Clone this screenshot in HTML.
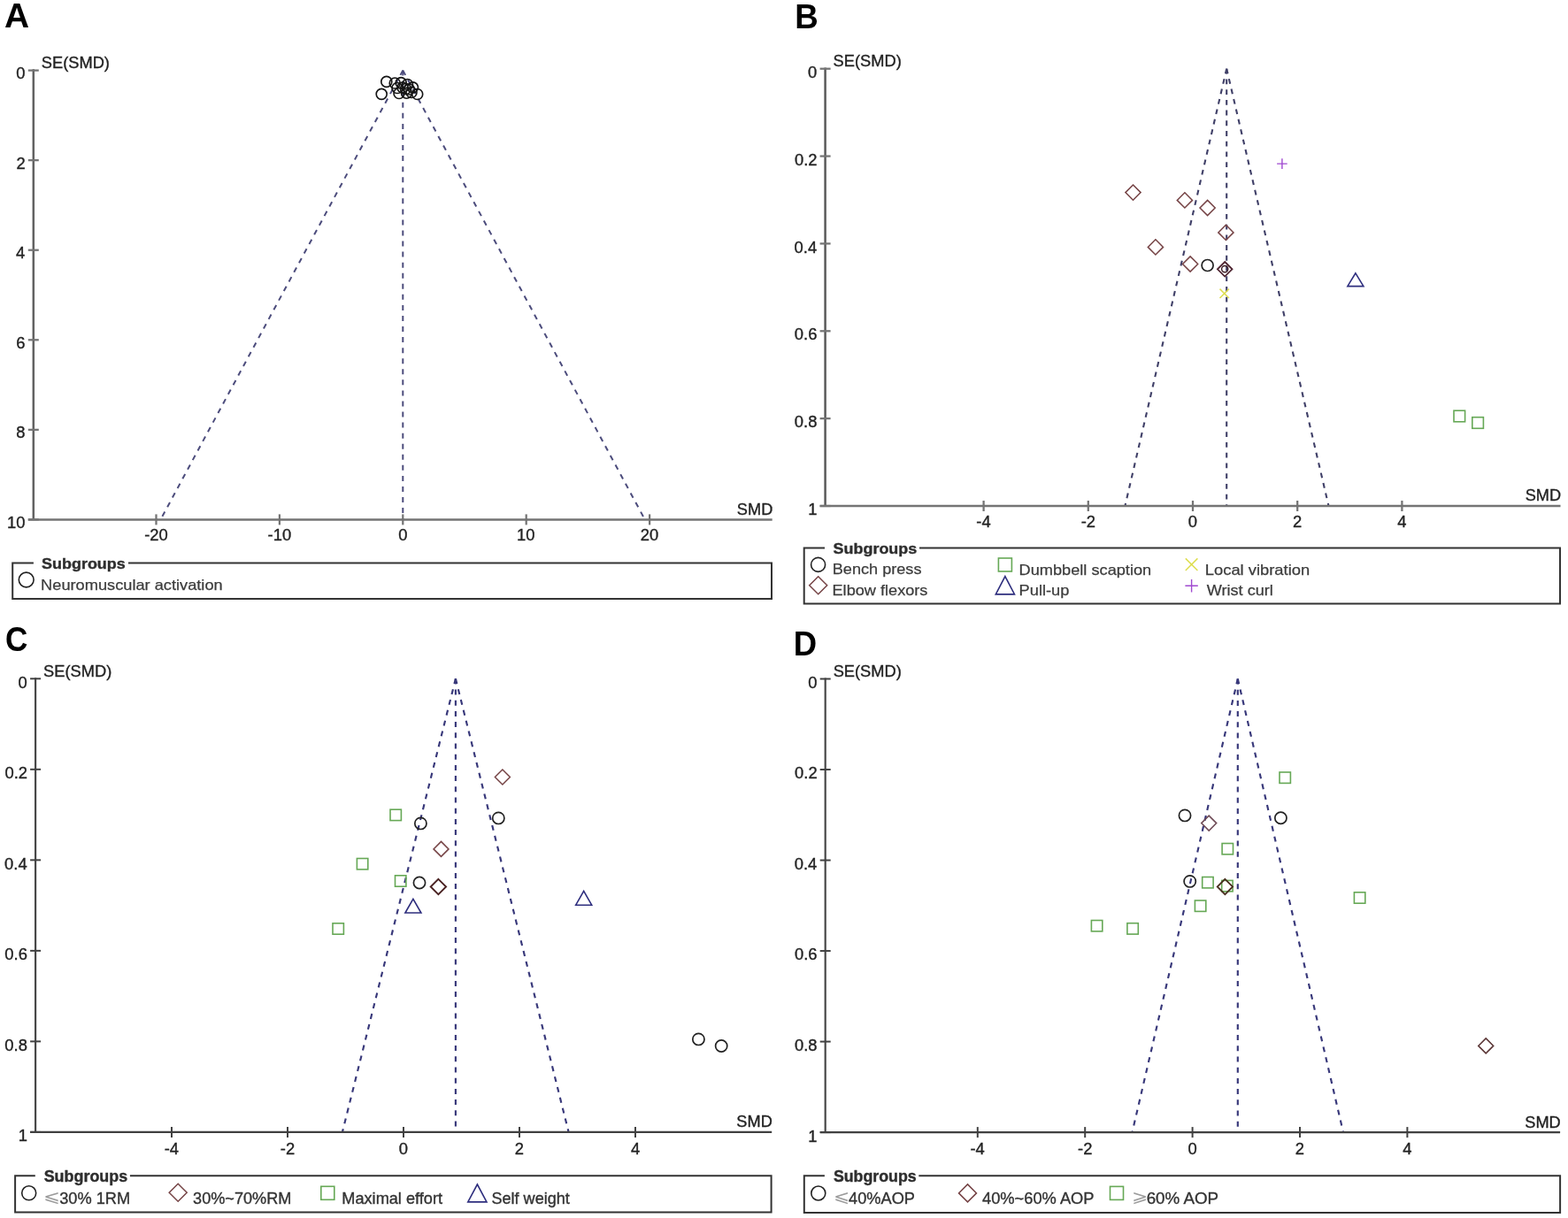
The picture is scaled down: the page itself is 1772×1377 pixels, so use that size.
<!DOCTYPE html>
<html><head><meta charset="utf-8"><title>Funnel plots</title>
<style>
html,body{margin:0;padding:0;background:#fff;}
body{width:1772px;height:1377px;overflow:hidden;}
svg{display:block;}
svg text{font-family:"Liberation Sans", Arial, sans-serif;}
</style></head>
<body>
<svg width="1772" height="1377" viewBox="0 0 1772 1377">
<rect width="1772" height="1377" fill="#fff"/>
<text x="4.93" y="30.70" font-size="38.50" font-weight="bold" textLength="28.09" lengthAdjust="spacingAndGlyphs" fill="#000">A</text>
<line x1="455.30" y1="79.60" x2="181.50" y2="587.40" stroke="#4c4c7c" stroke-width="2.00" stroke-dasharray="6 6.06"/>
<line x1="455.30" y1="79.60" x2="728.80" y2="587.40" stroke="#4c4c7c" stroke-width="2.00" stroke-dasharray="6 6.06"/>
<line x1="455.30" y1="79.60" x2="455.30" y2="587.40" stroke="#4c4c7c" stroke-width="2.00" stroke-dasharray="6 6.06"/>
<line x1="37.80" y1="78.35" x2="37.80" y2="587.40" stroke="#626262" stroke-width="2.50"/>
<line x1="31.80" y1="79.60" x2="43.80" y2="79.60" stroke="#747474" stroke-width="2.25"/>
<text x="18.29" y="89.10" font-size="17.60" textLength="10.23" lengthAdjust="spacingAndGlyphs" fill="#222" stroke="#222" stroke-width="0.35">0</text>
<line x1="31.80" y1="181.16" x2="43.80" y2="181.16" stroke="#747474" stroke-width="2.25"/>
<text x="18.50" y="190.66" font-size="17.60" textLength="10.23" lengthAdjust="spacingAndGlyphs" fill="#222" stroke="#222" stroke-width="0.35">2</text>
<line x1="31.80" y1="282.72" x2="43.80" y2="282.72" stroke="#747474" stroke-width="2.25"/>
<text x="18.11" y="292.22" font-size="17.60" textLength="10.23" lengthAdjust="spacingAndGlyphs" fill="#222" stroke="#222" stroke-width="0.35">4</text>
<line x1="31.80" y1="384.28" x2="43.80" y2="384.28" stroke="#747474" stroke-width="2.25"/>
<text x="18.38" y="393.78" font-size="17.60" textLength="10.23" lengthAdjust="spacingAndGlyphs" fill="#222" stroke="#222" stroke-width="0.35">6</text>
<line x1="31.80" y1="485.84" x2="43.80" y2="485.84" stroke="#747474" stroke-width="2.25"/>
<text x="18.37" y="495.34" font-size="17.60" textLength="10.23" lengthAdjust="spacingAndGlyphs" fill="#222" stroke="#222" stroke-width="0.35">8</text>
<line x1="31.80" y1="587.40" x2="43.80" y2="587.40" stroke="#747474" stroke-width="2.25"/>
<text x="8.06" y="596.90" font-size="17.60" textLength="20.46" lengthAdjust="spacingAndGlyphs" fill="#222" stroke="#222" stroke-width="0.35">10</text>
<line x1="31.80" y1="587.40" x2="872.70" y2="587.40" stroke="#747474" stroke-width="2.50"/>
<line x1="176.50" y1="581.40" x2="176.50" y2="593.40" stroke="#747474" stroke-width="2.25"/>
<text x="163.16" y="611.40" font-size="17.60" textLength="26.58" lengthAdjust="spacingAndGlyphs" fill="#222" stroke="#222" stroke-width="0.35">-20</text>
<line x1="315.90" y1="581.40" x2="315.90" y2="593.40" stroke="#747474" stroke-width="2.25"/>
<text x="302.56" y="611.40" font-size="17.60" textLength="26.58" lengthAdjust="spacingAndGlyphs" fill="#222" stroke="#222" stroke-width="0.35">-10</text>
<line x1="455.30" y1="581.40" x2="455.30" y2="593.40" stroke="#747474" stroke-width="2.25"/>
<text x="450.19" y="611.40" font-size="17.60" textLength="10.23" lengthAdjust="spacingAndGlyphs" fill="#222" stroke="#222" stroke-width="0.35">0</text>
<line x1="594.70" y1="581.40" x2="594.70" y2="593.40" stroke="#747474" stroke-width="2.25"/>
<text x="584.13" y="611.40" font-size="17.60" textLength="20.46" lengthAdjust="spacingAndGlyphs" fill="#222" stroke="#222" stroke-width="0.35">10</text>
<line x1="734.10" y1="581.40" x2="734.10" y2="593.40" stroke="#747474" stroke-width="2.25"/>
<text x="723.77" y="611.40" font-size="17.60" textLength="20.46" lengthAdjust="spacingAndGlyphs" fill="#222" stroke="#222" stroke-width="0.35">20</text>
<text x="46.77" y="77.30" font-size="17.80" textLength="77.16" lengthAdjust="spacingAndGlyphs" fill="#222" stroke="#222" stroke-width="0.35">SE(SMD)</text>
<text x="832.87" y="581.80" font-size="17.80" textLength="40.40" lengthAdjust="spacingAndGlyphs" fill="#222" stroke="#222" stroke-width="0.35">SMD</text>
<path d="M145.00 636.50H872.00V677.00H14.20V636.50H37.90" fill="none" stroke="#333" stroke-width="2"/>
<text x="47.08" y="643.20" font-size="17.00" font-weight="bold" textLength="94.65" lengthAdjust="spacingAndGlyphs" fill="#2e2e2e" stroke="#2e2e2e" stroke-width="0.40">Subgroups</text>
<text x="898.34" y="32.30" font-size="38.50" font-weight="bold" textLength="26.52" lengthAdjust="spacingAndGlyphs" fill="#000">B</text>
<line x1="1386.20" y1="77.70" x2="1271.40" y2="572.00" stroke="#404068" stroke-width="2.10" stroke-dasharray="5.8 5.93"/>
<line x1="1386.20" y1="77.70" x2="1501.50" y2="572.00" stroke="#404068" stroke-width="2.10" stroke-dasharray="5.8 5.93"/>
<line x1="1386.20" y1="77.70" x2="1386.20" y2="572.00" stroke="#404068" stroke-width="2.10" stroke-dasharray="5.8 5.93"/>
<line x1="932.60" y1="76.45" x2="932.60" y2="572.00" stroke="#5a5a5a" stroke-width="2.50"/>
<line x1="926.60" y1="77.70" x2="938.60" y2="77.70" stroke="#747474" stroke-width="2.25"/>
<text x="913.09" y="87.90" font-size="17.60" textLength="10.23" lengthAdjust="spacingAndGlyphs" fill="#222" stroke="#222" stroke-width="0.35">0</text>
<line x1="926.60" y1="176.56" x2="938.60" y2="176.56" stroke="#747474" stroke-width="2.25"/>
<text x="897.96" y="186.76" font-size="17.60" textLength="25.57" lengthAdjust="spacingAndGlyphs" fill="#222" stroke="#222" stroke-width="0.35">0.2</text>
<line x1="926.60" y1="275.42" x2="938.60" y2="275.42" stroke="#747474" stroke-width="2.25"/>
<text x="897.57" y="285.62" font-size="17.60" textLength="25.57" lengthAdjust="spacingAndGlyphs" fill="#222" stroke="#222" stroke-width="0.35">0.4</text>
<line x1="926.60" y1="374.28" x2="938.60" y2="374.28" stroke="#747474" stroke-width="2.25"/>
<text x="897.84" y="384.48" font-size="17.60" textLength="25.57" lengthAdjust="spacingAndGlyphs" fill="#222" stroke="#222" stroke-width="0.35">0.6</text>
<line x1="926.60" y1="473.14" x2="938.60" y2="473.14" stroke="#747474" stroke-width="2.25"/>
<text x="897.83" y="483.34" font-size="17.60" textLength="25.57" lengthAdjust="spacingAndGlyphs" fill="#222" stroke="#222" stroke-width="0.35">0.8</text>
<line x1="926.60" y1="572.00" x2="938.60" y2="572.00" stroke="#747474" stroke-width="2.25"/>
<text x="913.27" y="582.20" font-size="17.60" textLength="10.23" lengthAdjust="spacingAndGlyphs" fill="#222" stroke="#222" stroke-width="0.35">1</text>
<line x1="926.60" y1="572.00" x2="1763.50" y2="572.00" stroke="#747474" stroke-width="2.50"/>
<line x1="1111.60" y1="566.00" x2="1111.60" y2="578.00" stroke="#747474" stroke-width="2.25"/>
<text x="1103.28" y="595.50" font-size="17.60" textLength="16.35" lengthAdjust="spacingAndGlyphs" fill="#222" stroke="#222" stroke-width="0.35">-4</text>
<line x1="1229.80" y1="566.00" x2="1229.80" y2="578.00" stroke="#747474" stroke-width="2.25"/>
<text x="1221.68" y="595.50" font-size="17.60" textLength="16.35" lengthAdjust="spacingAndGlyphs" fill="#222" stroke="#222" stroke-width="0.35">-2</text>
<line x1="1348.00" y1="566.00" x2="1348.00" y2="578.00" stroke="#747474" stroke-width="2.25"/>
<text x="1342.89" y="595.50" font-size="17.60" textLength="10.23" lengthAdjust="spacingAndGlyphs" fill="#222" stroke="#222" stroke-width="0.35">0</text>
<line x1="1466.20" y1="566.00" x2="1466.20" y2="578.00" stroke="#747474" stroke-width="2.25"/>
<text x="1461.09" y="595.50" font-size="17.60" textLength="10.23" lengthAdjust="spacingAndGlyphs" fill="#222" stroke="#222" stroke-width="0.35">2</text>
<line x1="1584.40" y1="566.00" x2="1584.40" y2="578.00" stroke="#747474" stroke-width="2.25"/>
<text x="1579.34" y="595.50" font-size="17.60" textLength="10.23" lengthAdjust="spacingAndGlyphs" fill="#222" stroke="#222" stroke-width="0.35">4</text>
<text x="941.57" y="75.40" font-size="17.80" textLength="77.16" lengthAdjust="spacingAndGlyphs" fill="#222" stroke="#222" stroke-width="0.35">SE(SMD)</text>
<text x="1723.67" y="566.40" font-size="17.80" textLength="40.40" lengthAdjust="spacingAndGlyphs" fill="#222" stroke="#222" stroke-width="0.35">SMD</text>
<path d="M1039.00 619.60H1763.00V682.60H908.70V619.60H932.00" fill="none" stroke="#333" stroke-width="2"/>
<text x="941.58" y="626.00" font-size="17.20" font-weight="bold" textLength="94.65" lengthAdjust="spacingAndGlyphs" fill="#2e2e2e" stroke="#2e2e2e" stroke-width="0.40">Subgroups</text>
<text x="6.06" y="735.80" font-size="38.50" font-weight="bold" textLength="25.40" lengthAdjust="spacingAndGlyphs" fill="#000">C</text>
<line x1="514.90" y1="767.30" x2="386.90" y2="1279.90" stroke="#38387a" stroke-width="2.15" stroke-dasharray="6 6.2"/>
<line x1="514.90" y1="767.30" x2="642.60" y2="1279.90" stroke="#38387a" stroke-width="2.15" stroke-dasharray="6 6.2"/>
<line x1="514.90" y1="767.30" x2="514.90" y2="1279.90" stroke="#38387a" stroke-width="2.15" stroke-dasharray="6 6.2"/>
<line x1="40.10" y1="766.20" x2="40.10" y2="1279.90" stroke="#484848" stroke-width="2.20"/>
<line x1="34.10" y1="767.30" x2="46.10" y2="767.30" stroke="#404040" stroke-width="1.98"/>
<text x="20.59" y="777.70" font-size="17.60" textLength="10.23" lengthAdjust="spacingAndGlyphs" fill="#222" stroke="#222" stroke-width="0.35">0</text>
<line x1="34.10" y1="869.82" x2="46.10" y2="869.82" stroke="#404040" stroke-width="1.98"/>
<text x="5.46" y="880.22" font-size="17.60" textLength="25.57" lengthAdjust="spacingAndGlyphs" fill="#222" stroke="#222" stroke-width="0.35">0.2</text>
<line x1="34.10" y1="972.34" x2="46.10" y2="972.34" stroke="#404040" stroke-width="1.98"/>
<text x="5.07" y="982.74" font-size="17.60" textLength="25.57" lengthAdjust="spacingAndGlyphs" fill="#222" stroke="#222" stroke-width="0.35">0.4</text>
<line x1="34.10" y1="1074.86" x2="46.10" y2="1074.86" stroke="#404040" stroke-width="1.98"/>
<text x="5.34" y="1085.26" font-size="17.60" textLength="25.57" lengthAdjust="spacingAndGlyphs" fill="#222" stroke="#222" stroke-width="0.35">0.6</text>
<line x1="34.10" y1="1177.38" x2="46.10" y2="1177.38" stroke="#404040" stroke-width="1.98"/>
<text x="5.33" y="1187.78" font-size="17.60" textLength="25.57" lengthAdjust="spacingAndGlyphs" fill="#222" stroke="#222" stroke-width="0.35">0.8</text>
<line x1="34.10" y1="1279.90" x2="46.10" y2="1279.90" stroke="#404040" stroke-width="1.98"/>
<text x="20.77" y="1290.30" font-size="17.60" textLength="10.23" lengthAdjust="spacingAndGlyphs" fill="#222" stroke="#222" stroke-width="0.35">1</text>
<line x1="34.10" y1="1279.90" x2="872.20" y2="1279.90" stroke="#404040" stroke-width="2.20"/>
<line x1="194.00" y1="1273.90" x2="194.00" y2="1285.90" stroke="#404040" stroke-width="1.98"/>
<text x="185.68" y="1304.90" font-size="17.60" textLength="16.35" lengthAdjust="spacingAndGlyphs" fill="#222" stroke="#222" stroke-width="0.35">-4</text>
<line x1="325.00" y1="1273.90" x2="325.00" y2="1285.90" stroke="#404040" stroke-width="1.98"/>
<text x="316.88" y="1304.90" font-size="17.60" textLength="16.35" lengthAdjust="spacingAndGlyphs" fill="#222" stroke="#222" stroke-width="0.35">-2</text>
<line x1="456.00" y1="1273.90" x2="456.00" y2="1285.90" stroke="#404040" stroke-width="1.98"/>
<text x="450.89" y="1304.90" font-size="17.60" textLength="10.23" lengthAdjust="spacingAndGlyphs" fill="#222" stroke="#222" stroke-width="0.35">0</text>
<line x1="587.00" y1="1273.90" x2="587.00" y2="1285.90" stroke="#404040" stroke-width="1.98"/>
<text x="581.89" y="1304.90" font-size="17.60" textLength="10.23" lengthAdjust="spacingAndGlyphs" fill="#222" stroke="#222" stroke-width="0.35">2</text>
<line x1="718.00" y1="1273.90" x2="718.00" y2="1285.90" stroke="#404040" stroke-width="1.98"/>
<text x="712.94" y="1304.90" font-size="17.60" textLength="10.23" lengthAdjust="spacingAndGlyphs" fill="#222" stroke="#222" stroke-width="0.35">4</text>
<text x="49.07" y="765.00" font-size="17.80" textLength="77.16" lengthAdjust="spacingAndGlyphs" fill="#222" stroke="#222" stroke-width="0.35">SE(SMD)</text>
<text x="832.37" y="1274.30" font-size="17.80" textLength="40.40" lengthAdjust="spacingAndGlyphs" fill="#222" stroke="#222" stroke-width="0.35">SMD</text>
<path d="M146.90 1329.20H871.60V1370.60H17.10V1329.20H39.80" fill="none" stroke="#333" stroke-width="2"/>
<text x="49.68" y="1336.10" font-size="17.80" font-weight="bold" textLength="94.55" lengthAdjust="spacingAndGlyphs" fill="#2e2e2e" stroke="#2e2e2e" stroke-width="0.40">Subgroups</text>
<text x="896.86" y="740.60" font-size="38.50" font-weight="bold" textLength="26.38" lengthAdjust="spacingAndGlyphs" fill="#000">D</text>
<line x1="1398.80" y1="767.50" x2="1279.50" y2="1280.10" stroke="#38387a" stroke-width="2.15" stroke-dasharray="6 6.2"/>
<line x1="1398.80" y1="767.50" x2="1518.00" y2="1280.10" stroke="#38387a" stroke-width="2.15" stroke-dasharray="6 6.2"/>
<line x1="1398.80" y1="767.50" x2="1398.80" y2="1280.10" stroke="#38387a" stroke-width="2.15" stroke-dasharray="6 6.2"/>
<line x1="932.70" y1="766.40" x2="932.70" y2="1280.10" stroke="#484848" stroke-width="2.20"/>
<line x1="926.70" y1="767.50" x2="938.70" y2="767.50" stroke="#404040" stroke-width="1.98"/>
<text x="913.19" y="777.90" font-size="17.60" textLength="10.23" lengthAdjust="spacingAndGlyphs" fill="#222" stroke="#222" stroke-width="0.35">0</text>
<line x1="926.70" y1="870.02" x2="938.70" y2="870.02" stroke="#404040" stroke-width="1.98"/>
<text x="898.06" y="880.42" font-size="17.60" textLength="25.57" lengthAdjust="spacingAndGlyphs" fill="#222" stroke="#222" stroke-width="0.35">0.2</text>
<line x1="926.70" y1="972.54" x2="938.70" y2="972.54" stroke="#404040" stroke-width="1.98"/>
<text x="897.67" y="982.94" font-size="17.60" textLength="25.57" lengthAdjust="spacingAndGlyphs" fill="#222" stroke="#222" stroke-width="0.35">0.4</text>
<line x1="926.70" y1="1075.06" x2="938.70" y2="1075.06" stroke="#404040" stroke-width="1.98"/>
<text x="897.94" y="1085.46" font-size="17.60" textLength="25.57" lengthAdjust="spacingAndGlyphs" fill="#222" stroke="#222" stroke-width="0.35">0.6</text>
<line x1="926.70" y1="1177.58" x2="938.70" y2="1177.58" stroke="#404040" stroke-width="1.98"/>
<text x="897.93" y="1187.98" font-size="17.60" textLength="25.57" lengthAdjust="spacingAndGlyphs" fill="#222" stroke="#222" stroke-width="0.35">0.8</text>
<line x1="926.70" y1="1280.10" x2="938.70" y2="1280.10" stroke="#404040" stroke-width="1.98"/>
<text x="913.37" y="1290.50" font-size="17.60" textLength="10.23" lengthAdjust="spacingAndGlyphs" fill="#222" stroke="#222" stroke-width="0.35">1</text>
<line x1="926.70" y1="1280.10" x2="1763.10" y2="1280.10" stroke="#404040" stroke-width="2.20"/>
<line x1="1104.80" y1="1274.10" x2="1104.80" y2="1286.10" stroke="#404040" stroke-width="1.98"/>
<text x="1096.48" y="1304.70" font-size="17.60" textLength="16.35" lengthAdjust="spacingAndGlyphs" fill="#222" stroke="#222" stroke-width="0.35">-4</text>
<line x1="1226.20" y1="1274.10" x2="1226.20" y2="1286.10" stroke="#404040" stroke-width="1.98"/>
<text x="1218.08" y="1304.70" font-size="17.60" textLength="16.35" lengthAdjust="spacingAndGlyphs" fill="#222" stroke="#222" stroke-width="0.35">-2</text>
<line x1="1347.60" y1="1274.10" x2="1347.60" y2="1286.10" stroke="#404040" stroke-width="1.98"/>
<text x="1342.49" y="1304.70" font-size="17.60" textLength="10.23" lengthAdjust="spacingAndGlyphs" fill="#222" stroke="#222" stroke-width="0.35">0</text>
<line x1="1469.00" y1="1274.10" x2="1469.00" y2="1286.10" stroke="#404040" stroke-width="1.98"/>
<text x="1463.89" y="1304.70" font-size="17.60" textLength="10.23" lengthAdjust="spacingAndGlyphs" fill="#222" stroke="#222" stroke-width="0.35">2</text>
<line x1="1590.40" y1="1274.10" x2="1590.40" y2="1286.10" stroke="#404040" stroke-width="1.98"/>
<text x="1585.34" y="1304.70" font-size="17.60" textLength="10.23" lengthAdjust="spacingAndGlyphs" fill="#222" stroke="#222" stroke-width="0.35">4</text>
<text x="941.67" y="765.20" font-size="17.80" textLength="77.16" lengthAdjust="spacingAndGlyphs" fill="#222" stroke="#222" stroke-width="0.35">SE(SMD)</text>
<text x="1723.27" y="1274.50" font-size="17.80" textLength="40.40" lengthAdjust="spacingAndGlyphs" fill="#222" stroke="#222" stroke-width="0.35">SMD</text>
<path d="M1038.30 1329.30H1763.10V1371.00H908.80V1329.30H931.90" fill="none" stroke="#333" stroke-width="2"/>
<text x="941.89" y="1336.10" font-size="17.80" font-weight="bold" fill="#2e2e2e" stroke="#2e2e2e" stroke-width="0.40">Subgroups</text>
<circle cx="436.80" cy="92.40" r="6.00" fill="none" stroke="#151515" stroke-width="1.65"/>
<circle cx="431.20" cy="106.30" r="6.00" fill="none" stroke="#151515" stroke-width="1.65"/>
<circle cx="446.20" cy="94.00" r="6.00" fill="none" stroke="#151515" stroke-width="1.65"/>
<circle cx="453.20" cy="93.60" r="6.00" fill="none" stroke="#151515" stroke-width="1.65"/>
<circle cx="460.50" cy="95.50" r="6.00" fill="none" stroke="#151515" stroke-width="1.65"/>
<circle cx="466.50" cy="98.80" r="6.00" fill="none" stroke="#151515" stroke-width="1.65"/>
<circle cx="458.50" cy="100.50" r="6.00" fill="none" stroke="#151515" stroke-width="1.65"/>
<circle cx="451.00" cy="105.50" r="6.00" fill="none" stroke="#151515" stroke-width="1.65"/>
<circle cx="459.50" cy="105.20" r="6.00" fill="none" stroke="#151515" stroke-width="1.65"/>
<circle cx="465.00" cy="104.50" r="6.00" fill="none" stroke="#151515" stroke-width="1.65"/>
<circle cx="471.70" cy="106.50" r="6.00" fill="none" stroke="#151515" stroke-width="1.65"/>
<circle cx="455.00" cy="99.00" r="6.00" fill="none" stroke="#151515" stroke-width="1.65"/>
<circle cx="462.50" cy="101.00" r="6.00" fill="none" stroke="#151515" stroke-width="1.65"/>
<circle cx="449.00" cy="99.50" r="6.00" fill="none" stroke="#151515" stroke-width="1.65"/>
<circle cx="29.70" cy="655.50" r="8.40" fill="none" stroke="#222" stroke-width="1.60"/>
<text x="46.11" y="667.30" font-size="17.00" textLength="205.58" lengthAdjust="spacingAndGlyphs" fill="#3c3c3c" stroke="#3c3c3c" stroke-width="0.25">Neuromuscular activation</text>
<path d="M1443.10 185.10L1454.70 185.10M1448.90 179.30L1448.90 190.90" stroke="#a04ad0" stroke-width="1.40"/>
<path d="M1280.50 209.00L1289.10 217.60L1280.50 226.20L1271.90 217.60Z" fill="none" stroke="#764446" stroke-width="1.50"/>
<path d="M1338.90 217.80L1347.50 226.40L1338.90 235.00L1330.30 226.40Z" fill="none" stroke="#764446" stroke-width="1.50"/>
<path d="M1364.60 226.40L1373.20 235.00L1364.60 243.60L1356.00 235.00Z" fill="none" stroke="#764446" stroke-width="1.50"/>
<path d="M1385.40 254.30L1394.00 262.90L1385.40 271.50L1376.80 262.90Z" fill="none" stroke="#764446" stroke-width="1.50"/>
<path d="M1305.90 270.80L1314.50 279.40L1305.90 288.00L1297.30 279.40Z" fill="none" stroke="#764446" stroke-width="1.50"/>
<path d="M1345.10 289.90L1353.70 298.50L1345.10 307.10L1336.50 298.50Z" fill="none" stroke="#764446" stroke-width="1.50"/>
<circle cx="1364.60" cy="300.00" r="6.50" fill="none" stroke="#222" stroke-width="1.70"/>
<path d="M1384.20 296.00L1392.50 304.30L1384.20 312.60L1375.90 304.30Z" fill="none" stroke="#4e2430" stroke-width="1.80"/>
<circle cx="1384.20" cy="304.10" r="3.60" fill="none" stroke="#3a1a22" stroke-width="1.40"/>
<path d="M1378.50 326.60L1388.90 337.00M1378.50 337.00L1388.90 326.60" stroke="#dede50" stroke-width="1.50"/>
<path d="M1531.90 308.80L1540.90 323.60L1522.90 323.60Z" fill="none" stroke="#2e2e7e" stroke-width="1.60" stroke-linejoin="miter"/>
<rect x="1643.00" y="464.20" width="12.60" height="12.60" fill="none" stroke="#66a856" stroke-width="1.60"/>
<rect x="1663.80" y="471.70" width="12.60" height="12.60" fill="none" stroke="#66a856" stroke-width="1.60"/>
<circle cx="924.60" cy="638.40" r="8.00" fill="none" stroke="#222" stroke-width="1.60"/>
<path d="M924.70 651.70L934.70 661.70L924.70 671.70L914.70 661.70Z" fill="none" stroke="#764446" stroke-width="1.50"/>
<rect x="1128.40" y="631.00" width="15.00" height="15.00" fill="none" stroke="#66a856" stroke-width="1.60"/>
<path d="M1135.90 651.60L1146.50 671.90L1125.30 671.90Z" fill="none" stroke="#2e2e7e" stroke-width="1.60" stroke-linejoin="miter"/>
<path d="M1339.80 631.40L1353.40 645.00M1339.80 645.00L1353.40 631.40" stroke="#dede50" stroke-width="1.50"/>
<path d="M1339.40 662.20L1353.80 662.20M1346.60 655.00L1346.60 669.40" stroke="#a04ad0" stroke-width="1.40"/>
<text x="940.81" y="649.40" font-size="17.00" textLength="100.64" lengthAdjust="spacingAndGlyphs" fill="#3c3c3c" stroke="#3c3c3c" stroke-width="0.25">Bench press</text>
<text x="940.51" y="672.50" font-size="17.00" textLength="107.94" lengthAdjust="spacingAndGlyphs" fill="#3c3c3c" stroke="#3c3c3c" stroke-width="0.25">Elbow flexors</text>
<text x="1151.61" y="649.50" font-size="17.00" textLength="149.57" lengthAdjust="spacingAndGlyphs" fill="#3c3c3c" stroke="#3c3c3c" stroke-width="0.25">Dumbbell scaption</text>
<text x="1151.60" y="672.50" font-size="17.00" textLength="56.76" lengthAdjust="spacingAndGlyphs" fill="#3c3c3c" stroke="#3c3c3c" stroke-width="0.25">Pull-up</text>
<text x="1361.79" y="649.50" font-size="17.00" textLength="118.40" lengthAdjust="spacingAndGlyphs" fill="#3c3c3c" stroke="#3c3c3c" stroke-width="0.25">Local vibration</text>
<text x="1363.72" y="672.50" font-size="17.00" textLength="75.08" lengthAdjust="spacingAndGlyphs" fill="#3c3c3c" stroke="#3c3c3c" stroke-width="0.25">Wrist curl</text>
<path d="M567.90 870.00L576.40 878.50L567.90 887.00L559.40 878.50Z" fill="none" stroke="#764446" stroke-width="1.50"/>
<rect x="441.00" y="915.20" width="12.40" height="12.40" fill="none" stroke="#66a856" stroke-width="1.60"/>
<circle cx="475.40" cy="930.90" r="6.60" fill="none" stroke="#222" stroke-width="1.70"/>
<circle cx="563.30" cy="924.90" r="6.60" fill="none" stroke="#222" stroke-width="1.70"/>
<path d="M498.50 951.40L507.00 959.90L498.50 968.40L490.00 959.90Z" fill="none" stroke="#764446" stroke-width="1.50"/>
<rect x="403.40" y="970.50" width="12.40" height="12.40" fill="none" stroke="#66a856" stroke-width="1.60"/>
<rect x="446.50" y="989.80" width="12.40" height="12.40" fill="none" stroke="#66a856" stroke-width="1.60"/>
<circle cx="474.00" cy="998.00" r="6.60" fill="none" stroke="#222" stroke-width="1.70"/>
<path d="M495.40 993.80L504.10 1002.50L495.40 1011.20L486.70 1002.50Z" fill="none" stroke="#4a2222" stroke-width="1.90"/>
<path d="M466.90 1016.30L475.90 1032.00L457.90 1032.00Z" fill="none" stroke="#2e2e7e" stroke-width="1.60" stroke-linejoin="miter"/>
<path d="M659.70 1007.40L668.70 1023.20L650.70 1023.20Z" fill="none" stroke="#2e2e7e" stroke-width="1.60" stroke-linejoin="miter"/>
<rect x="376.00" y="1043.80" width="12.40" height="12.40" fill="none" stroke="#66a856" stroke-width="1.60"/>
<circle cx="789.40" cy="1174.90" r="6.60" fill="none" stroke="#222" stroke-width="1.70"/>
<circle cx="815.20" cy="1182.50" r="6.60" fill="none" stroke="#222" stroke-width="1.70"/>
<circle cx="32.70" cy="1348.80" r="8.00" fill="none" stroke="#222" stroke-width="1.60"/>
<path d="M201.20 1338.30L211.20 1348.30L201.20 1358.30L191.20 1348.30Z" fill="none" stroke="#764446" stroke-width="1.50"/>
<rect x="362.80" y="1341.30" width="15.00" height="15.00" fill="none" stroke="#66a856" stroke-width="1.60"/>
<path d="M539.40 1339.00L550.00 1358.90L528.80 1358.90Z" fill="none" stroke="#2e2e7e" stroke-width="1.60" stroke-linejoin="miter"/>
<rect x="1446.00" y="873.00" width="12.40" height="12.40" fill="none" stroke="#66a856" stroke-width="1.60"/>
<circle cx="1339.00" cy="921.90" r="6.60" fill="none" stroke="#222" stroke-width="1.70"/>
<path d="M1366.20 922.10L1374.70 930.60L1366.20 939.10L1357.70 930.60Z" fill="none" stroke="#6e4a55" stroke-width="1.50"/>
<circle cx="1447.40" cy="924.80" r="6.60" fill="none" stroke="#222" stroke-width="1.70"/>
<rect x="1381.10" y="953.50" width="12.40" height="12.40" fill="none" stroke="#66a856" stroke-width="1.60"/>
<circle cx="1344.70" cy="996.40" r="6.60" fill="none" stroke="#222" stroke-width="1.70"/>
<rect x="1358.70" y="991.50" width="12.40" height="12.40" fill="none" stroke="#66a856" stroke-width="1.60"/>
<rect x="1380.70" y="995.40" width="12.40" height="12.40" fill="none" stroke="#66a856" stroke-width="1.60"/>
<path d="M1384.40 993.80L1393.10 1002.50L1384.40 1011.20L1375.70 1002.50Z" fill="none" stroke="#4a3020" stroke-width="1.80"/>
<rect x="1350.40" y="1018.00" width="12.40" height="12.40" fill="none" stroke="#66a856" stroke-width="1.60"/>
<rect x="1530.40" y="1008.80" width="12.40" height="12.40" fill="none" stroke="#66a856" stroke-width="1.60"/>
<rect x="1233.40" y="1040.50" width="12.40" height="12.40" fill="none" stroke="#66a856" stroke-width="1.60"/>
<rect x="1273.90" y="1043.70" width="12.40" height="12.40" fill="none" stroke="#66a856" stroke-width="1.60"/>
<path d="M1679.20 1173.90L1687.70 1182.40L1679.20 1190.90L1670.70 1182.40Z" fill="none" stroke="#5a3535" stroke-width="1.50"/>
<circle cx="924.80" cy="1349.00" r="8.00" fill="none" stroke="#222" stroke-width="1.60"/>
<path d="M1093.50 1338.90L1103.50 1348.90L1093.50 1358.90L1083.50 1348.90Z" fill="none" stroke="#764446" stroke-width="1.50"/>
<rect x="1254.50" y="1341.40" width="15.00" height="15.00" fill="none" stroke="#66a856" stroke-width="1.60"/>
<text x="48.58" y="1358.76" font-size="19.03" font-family="'DejaVu Sans', sans-serif" fill="#9c9c9c" textLength="19.14" lengthAdjust="spacingAndGlyphs">&#x2A7D;</text>
<text x="67.21" y="1360.80" font-size="17.90" textLength="79.99" lengthAdjust="spacingAndGlyphs" fill="#333" stroke="#333" stroke-width="0.35">30% 1RM</text>
<text x="218.11" y="1360.80" font-size="17.90" textLength="111.28" lengthAdjust="spacingAndGlyphs" fill="#333" stroke="#333" stroke-width="0.35">30%~70%RM</text>
<text x="386.31" y="1360.80" font-size="17.90" textLength="113.72" lengthAdjust="spacingAndGlyphs" fill="#333" stroke="#333" stroke-width="0.35">Maximal effort</text>
<text x="555.48" y="1360.80" font-size="17.90" textLength="88.35" lengthAdjust="spacingAndGlyphs" fill="#333" stroke="#333" stroke-width="0.35">Self weight</text>
<text x="941.68" y="1358.76" font-size="19.03" font-family="'DejaVu Sans', sans-serif" fill="#9c9c9c" textLength="18.34" lengthAdjust="spacingAndGlyphs">&#x2A7D;</text>
<text x="959.08" y="1360.80" font-size="17.90" textLength="74.88" lengthAdjust="spacingAndGlyphs" fill="#333" stroke="#333" stroke-width="0.35">40%AOP</text>
<text x="1109.98" y="1360.80" font-size="17.90" textLength="126.57" lengthAdjust="spacingAndGlyphs" fill="#333" stroke="#333" stroke-width="0.35">40%~60% AOP</text>
<text x="1278.88" y="1358.76" font-size="19.03" font-family="'DejaVu Sans', sans-serif" fill="#9c9c9c" textLength="18.34" lengthAdjust="spacingAndGlyphs">&#x2A7E;</text>
<text x="1295.66" y="1360.80" font-size="17.90" textLength="81.42" lengthAdjust="spacingAndGlyphs" fill="#333" stroke="#333" stroke-width="0.35">60% AOP</text>
</svg>
</body></html>
